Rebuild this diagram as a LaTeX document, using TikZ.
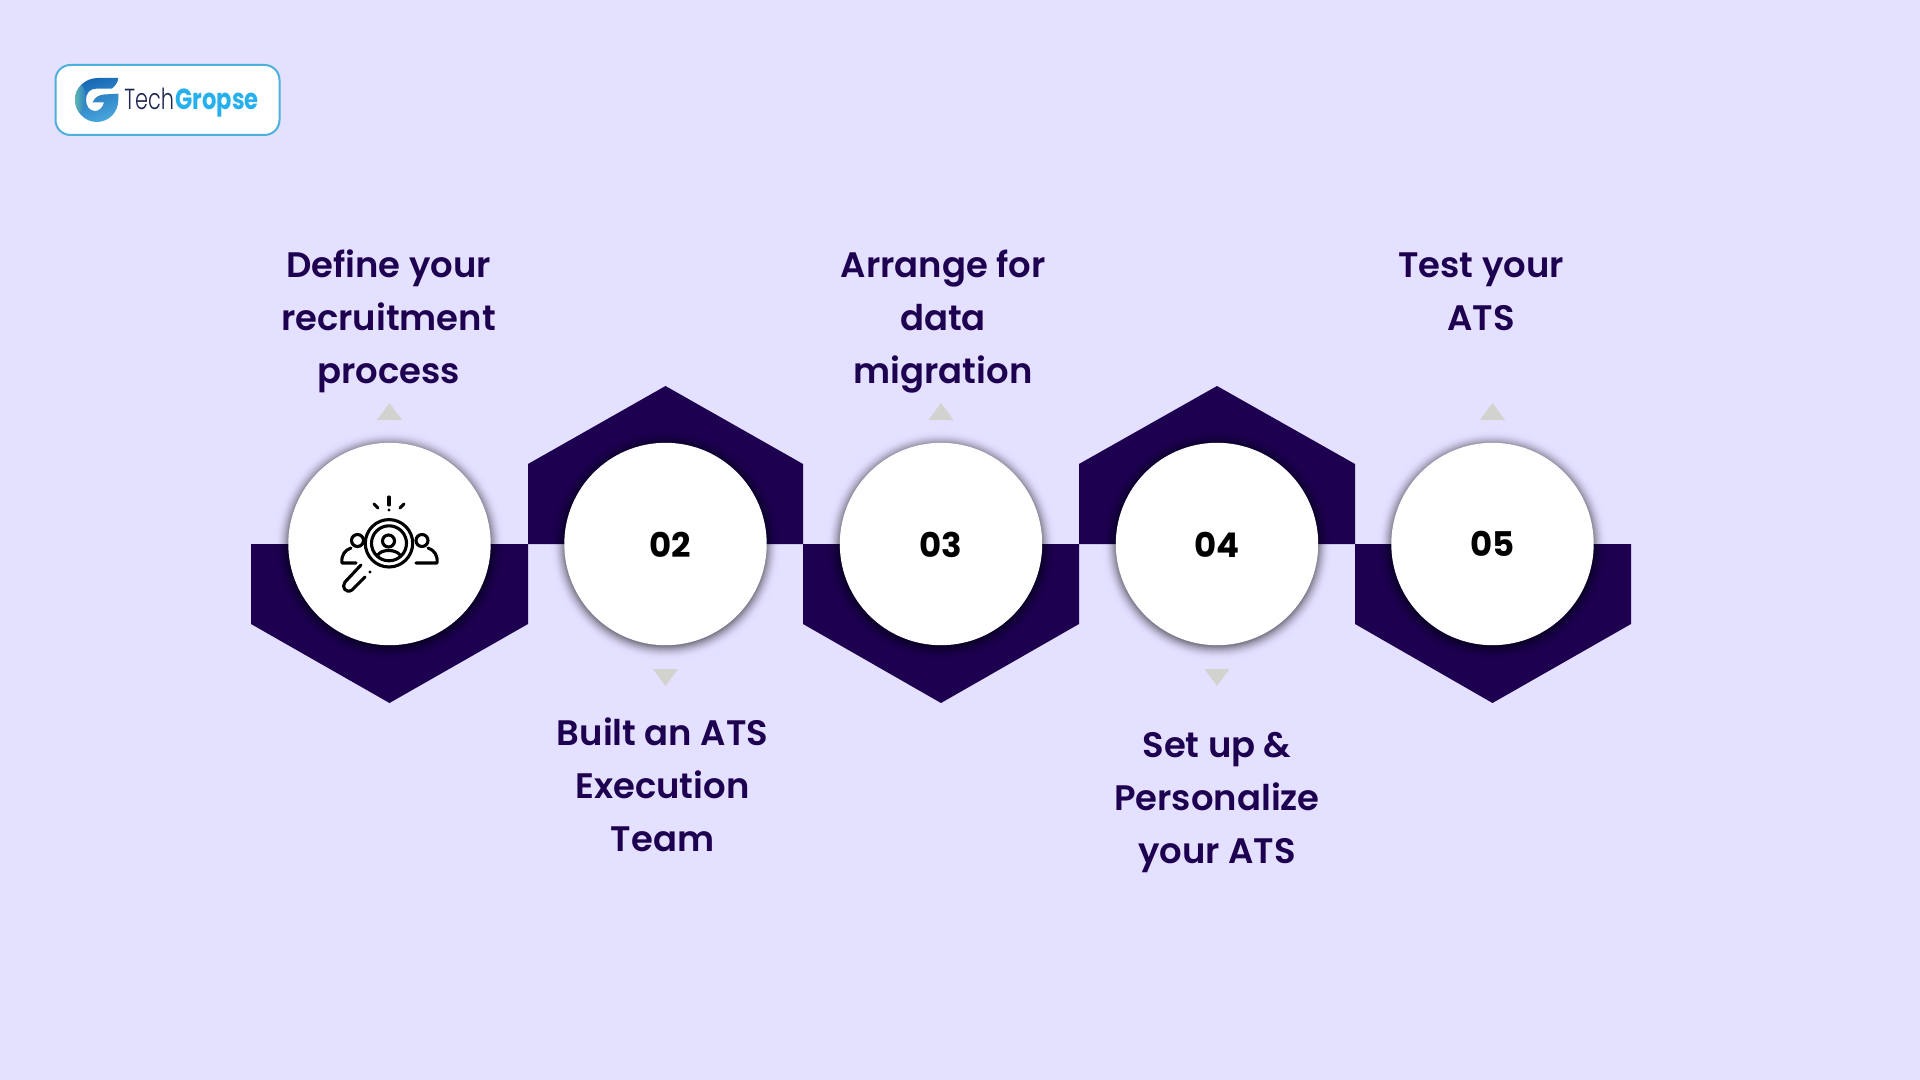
\documentclass[tikz,border=0pt]{standalone}
\usepackage{fontspec}
\setmainfont{Poppins}[BoldFont={Poppins SemiBold}]
\newfontfamily\numfont{Poppins}
\newfontfamily\lightfont{Poppins Light}
\usetikzlibrary{positioning}
\definecolor{pagebg}{HTML}{E4E0FF}
\definecolor{hexdark}{HTML}{1E0050}
\definecolor{markgrey}{HTML}{D2D2CE}
\definecolor{logoline}{HTML}{4DB0DC}
\definecolor{logodark}{HTML}{1C2452}
\definecolor{logoblue}{HTML}{26B0EE}
\definecolor{gtop}{HTML}{1668B4}
\definecolor{gright}{HTML}{4AA6DC}
\definecolor{gleft}{HTML}{5FB5B0}
\definecolor{gmid}{HTML}{2A80C4}
\begin{document}
\begin{tikzpicture}[x=0.5pt,y=-0.5pt,
main node/.style={circle,fill=white,minimum size=101.2pt,inner sep=0pt},
num node/.style={font=\fontsize{17}{17}\numfont\bfseries,text=black,inner sep=0pt},
label node/.style={font=\fontsize{17.7}{26.5}\selectfont\bfseries,text=hexdark,align=center,inner sep=0pt},
logo text/.style={anchor=base west,inner sep=0pt,transform shape},
icon line/.style={draw=black,line width=1.55pt,line cap=round,line join=round}]
\fill[pagebg] (0,0) rectangle (1920,1080);
\useasboundingbox (0,0) rectangle (1920,1080);
%logo
\node[draw=logoline,fill=white,line width=1pt,rounded corners=7.5pt,minimum width=112pt,minimum height=35pt,inner sep=0pt] (logo) at (167.5,100) {};
\shade[top color=gtop,bottom color=gright,shading angle=20] (118.3,78) -- (98,78) .. controls (85,78) and (75,88) .. (75,99.5) .. controls (75,112) and (85,122) .. (96.7,122) .. controls (109,122) and (118.3,112) .. (118.3,100) -- (118.3,93.7) -- (104,94.5) .. controls (99,95) and (95,97) .. (92.5,102.5) -- (104,102.5) .. controls (102.5,108) and (99,111) .. (95,111) .. controls (89.5,111) and (86,106) .. (86,100) .. controls (86,93) and (90,88.7) .. (96,88.7) -- (111.7,88.7) .. controls (115.5,86) and (118,82) .. (118.3,78) -- cycle;
\shade[left color=gleft,right color=gmid] (82,85) .. controls (77,89) and (75,94) .. (75,99.5) .. controls (75,104) and (77,109) .. (80,113) .. controls (83,110) and (86,105) .. (86,100) .. controls (86,95) and (85,90) .. (82,85) -- cycle;
\begin{scope}[xscale=.72]
\node[logo text,font=\fontsize{14.5}{14.5}\lightfont,text=logodark] (logotech) at (124/.72,110) {Tech};
\end{scope}
\begin{scope}[xscale=.78]
\node[logo text,font=\fontsize{14.5}{14.5}\numfont\bfseries,text=logoblue] (logogropse) at (175/.78,110) {Gropse};
\end{scope}
%hexagons
\fill[hexdark] (251,544) -- (251,624) -- (389.5,703) -- (528,624) -- (528,544) -- cycle;%1
\fill[hexdark] (528,544) -- (528,464) -- (665.5,386) -- (803,464) -- (803,544) -- cycle;%2
\fill[hexdark] (803,544) -- (803,624) -- (941,703) -- (1079,624) -- (1079,544) -- cycle;%3
\fill[hexdark] (1079,544) -- (1079,464) -- (1217,386) -- (1355,464) -- (1355,544) -- cycle;%4
\fill[hexdark] (1355,544) -- (1355,624) -- (1492.5,703) -- (1631,624) -- (1631,544) -- cycle;%5
%shadows
\foreach \cx in {389.5,665.5,941,1217,1492.5}
  \foreach \rad/\shadeop in {116/.004,114/.008,112/.012,111/.016,110/.02,109/.026,108/.032,107/.04,106/.048,105/.056,104/.064,103/.072,102/.08,101/.09}
    \fill[black,opacity=\shadeop] (\cx,545.5) circle (\rad);
%circles
\node[main node] (c1) at (389.5,544) {};%1
\node[main node] (c2) at (665.5,544) {};%2
\node[main node] (c3) at (941,544) {};%3
\node[main node] (c4) at (1217,544) {};%4
\node[main node] (c5) at (1492.5,544) {};%5
\node[num node] (n2) at (670,544.5) {02};
\node[num node] (n3) at (941,544.5) {03};
\node[num node] (n4) at (1217,544.5) {04};
\node[num node] (n5) at (1492.5,543.5) {05};
%marks
\fill[markgrey] (389.5,403) -- (402,420) -- (377,420) -- cycle;
\fill[markgrey] (941,403) -- (953.5,420) -- (928.5,420) -- cycle;
\fill[markgrey] (1492.5,403) -- (1505,420) -- (1480,420) -- cycle;
\fill[markgrey] (665.5,686) -- (678,669) -- (653,669) -- cycle;
\fill[markgrey] (1217,686) -- (1229.5,669) -- (1204.5,669) -- cycle;
%labels
\node[label node] (t1) at (388.5,321) {Define your\\recruitment\\process};
\node[label node] (t2) at (662.5,785) {Built an ATS\\Execution\\Team};
\node[label node] (t3) at (943,322) {Arrange for\\data\\migration};
\node[label node] (t4) at (1217,803) {Set up \&\\Personalize\\your ATS};
\node[label node] (t5) at (1481,292) {Test your\\ATS};
%icon
\begin{scope}[icon line]
\draw (389,543.3) circle (23.7);
\draw (389,543.3) circle (17.5);
\draw (388.5,541) circle (6);
\draw (378,555) .. controls (381,549) and (396,549) .. (400,555);
\draw (357.5,540.5) circle (6);
\draw (422,540.5) circle (6);
\draw (356,563) -- (342,563) .. controls (341,555) and (345,550) .. (351,548);
\draw (416,563) -- (437,563) .. controls (438,555) and (434,550) .. (428,548);
\draw (361,565) -- (345,582) .. controls (341,587) and (346,594) .. (352,590) -- (365,577);
\draw (389,497) -- (389,505);
\draw (374,504) -- (378,508);
\draw (404,504) -- (400,508);
\end{scope}
\fill[black] (389,510) circle (1.7);
\fill[black] (370,572) circle (1.7);
\end{tikzpicture}
\end{document}
